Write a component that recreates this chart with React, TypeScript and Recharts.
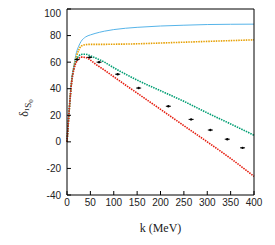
import { ComposedChart, Line, Scatter, XAxis, YAxis } from 'recharts'

// momentum grid (MeV) shared by the four curves
const kGrid = [0, 2, 5, 10, 15, 20, 25, 30, 40, 50, 60, 80, 100, 125, 150, 200, 250, 300, 350, 400]

const blueCurve = [0, 10, 25, 47, 58, 67, 72, 75.5, 79, 80.5, 81.6, 83.3, 84.5, 85.5, 86.2, 87.2, 87.8, 88.3, 88.5, 88.6]
const orangeCurve = [0, 10, 25, 46, 57, 64, 69, 72, 73.2, 73.4, 73.4, 73.4, 73.5, 73.6, 73.8, 74.4, 75, 75.6, 76.2, 76.8]
const greenCurve = [0, 10, 25, 45.5, 55.5, 61.5, 64.5, 65.8, 66, 64.8, 63.3, 60, 55.8, 51, 46.5, 38.5, 30.5, 21.8, 13.5, 5]
const redCurve = [0, 10, 25, 45, 55, 60, 62.5, 63.8, 63.5, 61.5, 58.8, 54, 49, 42.8, 36.7, 24.5, 12.2, 0, -12.5, -26]

// phase shift data points
const pointK = [21.7, 48.5, 68.6, 108.4, 153.3, 216.8, 265.5, 306.6, 342.8, 375.5]
const pointDelta = [62, 63.6, 60, 50.9, 40.5, 26.8, 16.9, 8.9, 2, -4.5]

const xTicks = [0, 50, 100, 150, 200, 250, 300, 350, 400]
const yTicks = [-40, -20, 0, 20, 40, 60, 80, 100]

const table = kGrid.map((k, i) => ({
  k,
  blue: blueCurve[i],
  orange: orangeCurve[i],
  green: greenCurve[i],
  red: redCurve[i],
}))

const points = pointK.map((k, i) => ({ k, v: pointDelta[i] }))

const tickStyle = { fontSize: 10, fill: '#222', fontFamily: '"Liberation Sans", Arial, sans-serif' }

function PointMark(props: any) {
  const { cx, cy } = props
  if (cx == null || cy == null) return null
  return (
    <g>
      <line x1={cx - 2.5} y1={cy} x2={cx + 2.5} y2={cy} stroke="#000" strokeWidth={1} />
      <circle cx={cx} cy={cy} r={1.2} fill="#000" />
    </g>
  )
}

function YLabel() {
  const x = 20
  const y = 100
  return (
    <text
      x={x}
      y={y}
      transform={`rotate(-90, ${x}, ${y})`}
      textAnchor="middle"
      fontFamily='"Liberation Serif", serif'
      fontSize={12}
      fill="#222"
    >
      δ
      <tspan fontSize={7} dy={1}>1</tspan>
      <tspan fontSize={9} dy={2}>S</tspan>
      <tspan fontSize={7} dy={2}>0</tspan>
    </text>
  )
}

export default function App() {
  return (
    <ComposedChart
      width={262}
      height={232}
      data={table}
      margin={{ top: 0, right: 15, bottom: 0, left: 0 }}
    >
      <XAxis
        xAxisId="b"
        type="number"
        dataKey="k"
        domain={[0, 400]}
        ticks={xTicks}
        height={45}
        tickSize={-4}
        tickMargin={8}
        stroke="#000"
        tick={tickStyle}
        label={{
          value: 'k (MeV)',
          position: 'insideBottom',
          offset: 8,
          style: { fontFamily: '"Liberation Serif", serif', fontSize: 12, fill: '#222' },
        }}
      />
      <XAxis
        xAxisId="t"
        orientation="top"
        type="number"
        domain={[0, 400]}
        ticks={xTicks}
        height={1}
        tickSize={-4}
        tick={false}
        stroke="#000"
      />
      <YAxis
        yAxisId="l"
        type="number"
        domain={[-40, 100]}
        ticks={yTicks}
        width={59}
        tickSize={-4}
        tickMargin={10}
        stroke="#000"
        tick={tickStyle}
        label={<YLabel />}
      />
      <YAxis
        yAxisId="r"
        orientation="right"
        type="number"
        domain={[-40, 100]}
        ticks={yTicks}
        width={1}
        tickSize={-4}
        tick={false}
        stroke="#000"
      />
      <Line
        xAxisId="b"
        yAxisId="l"
        type="monotone"
        dataKey="blue"
        stroke="#56b4e9"
        strokeWidth={1}
        dot={false}
        isAnimationActive={false}
      />
      <Line
        xAxisId="b"
        yAxisId="l"
        type="monotone"
        dataKey="orange"
        stroke="#e69f00"
        strokeWidth={1.6}
        strokeDasharray="1.5 1"
        dot={false}
        isAnimationActive={false}
      />
      <Line
        xAxisId="b"
        yAxisId="l"
        type="monotone"
        dataKey="green"
        stroke="#009e73"
        strokeWidth={1.6}
        strokeDasharray="1.5 1"
        dot={false}
        isAnimationActive={false}
      />
      <Line
        xAxisId="b"
        yAxisId="l"
        type="monotone"
        dataKey="red"
        stroke="#e51e10"
        strokeWidth={1.6}
        strokeDasharray="1.5 1"
        dot={false}
        isAnimationActive={false}
      />
      <Scatter
        xAxisId="b"
        yAxisId="l"
        data={points}
        dataKey="v"
        shape={<PointMark />}
        isAnimationActive={false}
      />
    </ComposedChart>
  )
}
